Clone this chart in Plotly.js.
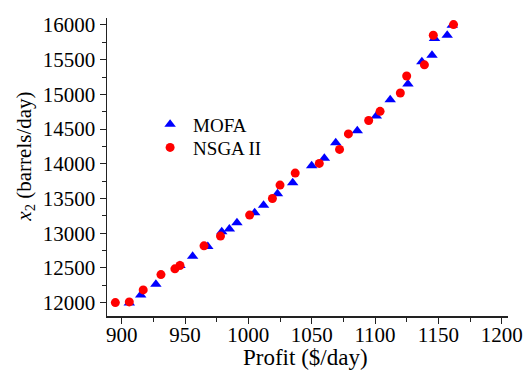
<!DOCTYPE html>
<html>
<head>
<meta charset="utf-8">
<script src="https://cdn.plot.ly/plotly-3.0.1.min.js"></script>
<style>html,body{margin:0;padding:0;background:#fff;}#chart{width:527px;height:370px;}</style>
</head>
<body>
<div id="chart"></div>
<script>
// MOFA (blue triangles)
const mofaProfit = [906, 915, 927, 946, 956, 968, 979, 985, 991, 1005, 1012, 1023, 1035, 1050, 1060, 1069, 1086, 1101, 1112, 1126, 1137, 1145, 1147, 1157, 1161];
const mofaX2 = [11995, 12110, 12265, 12536, 12666, 12810, 13019, 13062, 13149, 13293, 13404, 13567, 13726, 13971, 14079, 14303, 14476, 14689, 14923, 15149, 15468, 15562, 15803, 15853, 15997];
// NSGA II (red circles)
const nsgaProfit = [895, 906, 917, 931, 942, 946, 965, 978, 1001, 1019, 1025, 1037, 1056, 1072, 1079, 1095, 1104, 1120, 1125, 1139, 1146, 1162];
const nsgaX2 = [12000, 12010, 12183, 12404, 12486, 12534, 12818, 12958, 13261, 13499, 13693, 13866, 14005, 14207, 14430, 14623, 14755, 15020, 15265, 15425, 15851, 16005];
const seriesNames = ["MOFA", "NSGA II"];
const xTickVals = [900, 950, 1000, 1050, 1100, 1150, 1200];
const yTickVals = [12000, 12500, 13000, 13500, 14000, 14500, 15000, 15500, 16000];

const FONT = "Liberation Serif, Times New Roman, DejaVu Serif, serif";

const traces = [
  {x: mofaProfit, y: mofaX2, name: seriesNames[0], mode: "markers", type: "scatter", legend: "legend",
   marker: {symbol: "triangle-up", size: 10, color: "#0000ff"}},
  {x: nsgaProfit, y: nsgaX2, name: seriesNames[1], mode: "markers", type: "scatter", legend: "legend2",
   marker: {symbol: "circle", size: 9, color: "#ff0000"}}
];

const axisCommon = {
  showline: true, linecolor: "#222", linewidth: 1.5, mirror: false,
  showgrid: false, zeroline: false,
  ticks: "outside", ticklen: 6, tickwidth: 1, tickcolor: "#222",
  tickfont: {family: FONT, size: 21, color: "#000"}
};

const legendCommon = {xanchor: "left", yanchor: "top", bgcolor: "rgba(0,0,0,0)",
  font: {family: FONT, size: 19, color: "#000"}, itemwidth: 36};

const layout = {
  width: 527, height: 370,
  margin: {l: 107, r: 19, t: 18, b: 54},
  paper_bgcolor: "#fff", plot_bgcolor: "#fff",
  font: {family: FONT, color: "#000"},
  showlegend: true,
  legend: Object.assign({x: 0.1, y: 0.707}, legendCommon),
  legend2: Object.assign({x: 0.1, y: 0.629}, legendCommon),
  xaxis: Object.assign({}, axisCommon, {
    range: [888.4, 1205], tickvals: xTickVals, ticktext: xTickVals.map(String),
    ticklabelstandoff: -7,
    minor: {dtick: 25, ticks: "outside", ticklen: 4, tickcolor: "#222", showgrid: false}
  }),
  yaxis: Object.assign({}, axisCommon, {
    range: [11807, 16100], tickvals: yTickVals, ticktext: yTickVals.map(String),
    minor: {dtick: 250, ticks: "outside", ticklen: 4, tickcolor: "#222", showgrid: false}
  }),
  annotations: [{
    text: "<i>x</i><sub>2</sub> (barrels/day)", textangle: -90,
    xref: "paper", yref: "paper", x: -0.205, y: 0.534, xanchor: "center", yanchor: "middle",
    showarrow: false, font: {family: FONT, size: 21, color: "#000"}
  }, {
    text: "Profit ($/day)",
    xref: "paper", yref: "paper", x: 0.496, y: -0.1376, xanchor: "center", yanchor: "middle",
    showarrow: false, font: {family: FONT, size: 23, color: "#000"}
  }]
};

Plotly.newPlot("chart", traces, layout, {displayModeBar: false, staticPlot: true});
</script>
</body>
</html>
